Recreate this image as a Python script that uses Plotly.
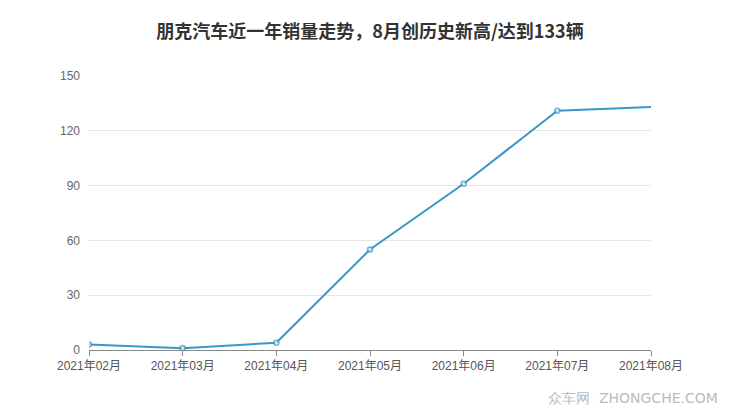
import plotly.graph_objects as go

months = ["2021年02月", "2021年03月", "2021年04月", "2021年05月", "2021年06月", "2021年07月", "2021年08月"]
sales = [3, 1, 4, 55, 91, 131, 133]
y_ticks = [0, 30, 60, 90, 120, 150]

title = "朋克汽车近一年销量走势，8月创历史新高/达到133辆"

marker_sizes = [5] * (len(sales) - 1) + [0]

fig = go.Figure()
fig.add_trace(go.Scatter(
    x=list(range(len(months))), y=sales, mode="lines+markers",
    line=dict(color="#3a96c8", width=2),
    marker=dict(size=marker_sizes, color="white", line=dict(color="#3a96c8", width=1.6)),
    hoverinfo="skip", showlegend=False,
))

fig.update_layout(
    width=740, height=417,
    margin=dict(l=81, r=97, t=68, b=75),
    paper_bgcolor="white", plot_bgcolor="white",
    title=dict(text="<b>" + title + "</b>", x=(370 - 8) / 740, xanchor="center",
               y=1 - 24 / 417, yanchor="middle",
               font=dict(family="Noto Sans CJK SC", size=18, color="#333333")),
    font=dict(family="Liberation Sans, Noto Sans CJK SC", size=11, color="#555555"),
    xaxis=dict(
        range=[0, len(months) - 1], tickmode="array",
        tickvals=list(range(len(months))), ticktext=months,
        showgrid=False, zeroline=False, showline=True, linecolor="#888888", linewidth=1,
        ticks="outside", ticklen=5, tickcolor="#888888",
        tickfont=dict(family="Liberation Sans, Noto Sans CJK SC", size=12, color="#555555"),
    ),
    yaxis=dict(
        range=[0, 150], tickmode="array", tickvals=y_ticks,
        showgrid=True, gridcolor="#e6e6e6", gridwidth=1, zeroline=False,
        showline=False, ticks="", ticklabelstandoff=8,
        tickfont=dict(family="Liberation Sans", size=12, color="#666666"),
    ),
    annotations=[dict(
        text="众车网  ZHONGCHE.COM", xref="paper", yref="paper",
        x=(720 - 81 - 8) / 562, y=-(398 - 8 - 342) / 274, xanchor="right", yanchor="middle",
        showarrow=False,
        font=dict(family="DejaVu Sans", size=14, color="#bbbbbb"),
    )],
)

fig.write_html("out.html")
